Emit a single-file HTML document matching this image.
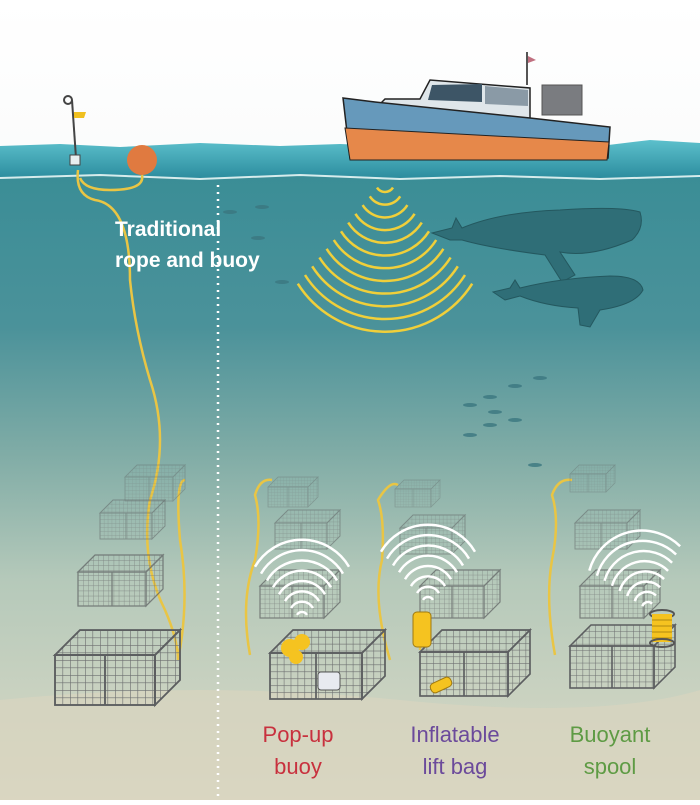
<!DOCTYPE html>
<html><head><meta charset="utf-8"><style>
html,body{margin:0;padding:0;}
body{width:700px;height:800px;overflow:hidden;font-family:"Liberation Sans",sans-serif;}
</style></head><body>
<svg width="700" height="800" viewBox="0 0 700 800" xmlns="http://www.w3.org/2000/svg">
<defs>
<linearGradient id="sky" x1="0" y1="0" x2="0" y2="1">
<stop offset="0" stop-color="#ffffff"/><stop offset="1" stop-color="#e9eeee"/>
</linearGradient>
<linearGradient id="sea" x1="0" y1="0" x2="0" y2="1">
<stop offset="0" stop-color="#3a8d96"/>
<stop offset="0.25" stop-color="#4b929a"/>
<stop offset="0.45" stop-color="#80aca6"/>
<stop offset="0.65" stop-color="#b5c9ba"/>
<stop offset="1" stop-color="#dcdac6"/>
</linearGradient>
<linearGradient id="surf" x1="0" y1="0" x2="0" y2="1">
<stop offset="0" stop-color="#5cc0cc"/><stop offset="1" stop-color="#2a8a9c"/>
</linearGradient>
<pattern id="grid" width="6" height="6" patternUnits="userSpaceOnUse">
<path d="M0 0H6M0 0V6" stroke="#6d6f70" stroke-width="1" fill="none"/>
</pattern>
<g id="cage">
<polygon points="0,20 20,0 100,0 80,20" fill="url(#grid)" stroke="#5c5e60" stroke-width="1.5"/>
<polygon points="80,20 100,0 100,40 80,60" fill="url(#grid)" stroke="#5c5e60" stroke-width="1.5"/>
<rect x="0" y="20" width="80" height="40" fill="url(#grid)" stroke="#5c5e60" stroke-width="1.5"/>
<line x1="40" y1="20" x2="40" y2="60" stroke="#5c5e60" stroke-width="1.5"/>
</g>
<g id="wave" fill="none" stroke="#ffffff" stroke-width="2.5">
<path d="M-5 -3.1 A5.8 5.8 0 0 1 5 -3.1"/>
<path d="M-11 -10 A12.8 12.8 0 0 1 11 -10"/>
<path d="M-17 -16.9 A19.7 19.7 0 0 1 17 -16.9"/>
<path d="M-23 -23.8 A26.7 26.7 0 0 1 23 -23.8"/>
<path d="M-29 -30.7 A33.6 33.6 0 0 1 29 -30.7"/>
<path d="M-35 -37.5 A40.6 40.6 0 0 1 35 -37.5"/>
<path d="M-41 -44.4 A47.6 47.6 0 0 1 41 -44.4"/>
<path d="M-47 -51.3 A54.5 54.5 0 0 1 47 -51.3"/>
</g>
</defs>
<rect width="700" height="800" fill="url(#sky)"/>
<rect y="170" width="700" height="630" fill="url(#sea)"/>
<path d="M0 700 Q200 680 400 700 T700 690 V800 H0Z" fill="#d8d4bf" opacity="0.7"/>
<path d="M0 146 L60 144 L120 147 L200 143 L280 146 L340 144 L420 147 L520 145 L600 146 L650 140 L700 143 V178 L600 180 L500 177 L400 180 L300 176 L200 180 L100 176 L0 179Z" fill="url(#surf)"/>
<path d="M0 178 L100 175 L200 179 L300 175 L400 179 L500 176 L600 179 L700 176" stroke="#d6ecec" stroke-width="2" fill="none"/>
<line x1="218" y1="185" x2="218" y2="800" stroke="#ffffff" stroke-width="2.5" stroke-dasharray="2 5"/>
<!-- boat -->
<g>
<line x1="527" y1="52" x2="527" y2="85" stroke="#555" stroke-width="2"/>
<path d="M528 56 L536 60 L528 63Z" fill="#c07080"/>
<rect x="542" y="85" width="40" height="30" fill="#7a7c80" stroke="#555"/>
<path d="M380 104 L385 99 L420 99 L430 80 L530 88 L530 120 L380 118Z" fill="#dfe6ea" stroke="#222" stroke-width="1.5"/>
<path d="M432 85 L482 84 L482 102 L428 100Z" fill="#3d5566"/>
<path d="M485 86 L528 90 L528 106 L485 104Z" fill="#8a9aa6"/>
<path d="M343 98 L375 102 L530 118 L610 127 L608 158 L350 158Z" fill="#6699bb" stroke="#222" stroke-width="1.5"/>
<path d="M345 128 Q480 135 609 142 L607 160 L350 160Z" fill="#e6884a" stroke="#222" stroke-width="1"/>
</g>
<!-- sonar arcs -->
<g fill="none" stroke="#f0cf3a" stroke-width="2.5">
<path d="M377 187.6 A9.5 9.5 0 0 0 393 187.6"/>
<path d="M369.8 196.3 A18 18 0 0 0 400.2 196.3"/>
<path d="M362.6 205.1 A26.5 26.5 0 0 0 407.4 205.1"/>
<path d="M355.4 213.8 A35 35 0 0 0 414.6 213.8"/>
<path d="M348.2 222.6 A43.6 43.6 0 0 0 421.8 222.6"/>
<path d="M341 231.3 A52.1 52.1 0 0 0 429 231.3"/>
<path d="M333.8 240 A60.6 60.6 0 0 0 436.2 240"/>
<path d="M326.6 248.8 A69.1 69.1 0 0 0 443.4 248.8"/>
<path d="M319.4 257.5 A77.7 77.7 0 0 0 450.6 257.5"/>
<path d="M312.2 266.3 A86.2 86.2 0 0 0 457.8 266.3"/>
<path d="M305 275 A94.7 94.7 0 0 0 465 275"/>
<path d="M297.8 283.7 A103.2 103.2 0 0 0 472.2 283.7"/>
</g>
<!-- whales -->
<g fill="#2f6e77" stroke="#24585f" stroke-width="1">
<path d="M432 233 L452 228 L456 218 L462 228 Q500 212 560 210 Q620 206 640 212 Q645 228 632 240 Q590 258 560 252 L575 275 L562 282 L545 255 Q490 248 462 240 L450 240Z"/>
<path d="M493 292 L510 288 L515 280 L520 288 Q560 278 610 276 Q640 276 643 290 Q635 305 600 310 L590 327 L580 325 L578 308 Q545 306 520 296 L505 300Z"/>
</g>
<!-- fish -->
<g fill="#3b7780" opacity="0.8">
<ellipse cx="230" cy="212" rx="7" ry="2"/><ellipse cx="262" cy="207" rx="7" ry="2"/>
<ellipse cx="258" cy="238" rx="7" ry="2"/><ellipse cx="282" cy="282" rx="7" ry="2"/>
<ellipse cx="540" cy="378" rx="7" ry="2"/><ellipse cx="515" cy="386" rx="7" ry="2"/>
<ellipse cx="490" cy="397" rx="7" ry="2"/><ellipse cx="470" cy="405" rx="7" ry="2"/>
<ellipse cx="495" cy="412" rx="7" ry="2"/><ellipse cx="515" cy="420" rx="7" ry="2"/>
<ellipse cx="490" cy="425" rx="7" ry="2"/><ellipse cx="470" cy="435" rx="7" ry="2"/>
<ellipse cx="535" cy="465" rx="7" ry="2"/>
</g>
<!-- buoy -->
<line x1="72" y1="100" x2="76" y2="158" stroke="#444" stroke-width="2"/>
<circle cx="68" cy="100" r="4" fill="none" stroke="#444" stroke-width="2"/>
<path d="M74 112 L86 112 L84 118 L74 118Z" fill="#f0c020"/>
<rect x="70" y="155" width="10" height="10" fill="#e8eef0" stroke="#444"/>
<circle cx="142" cy="160" r="15" fill="#e07a40"/>
<!-- ropes -->
<g fill="none" stroke="#e9c544" stroke-width="2.5">
<path d="M78 170 Q75 195 95 200 Q130 205 130 280 Q135 330 150 380 Q170 440 150 500 Q140 560 165 610 Q178 640 178 660"/>
<path d="M142 175 Q145 190 110 190 Q85 190 80 178"/>
<path d="M178 660 Q190 600 180 540 Q175 480 185 480"/>
<path d="M250 655 Q240 600 255 560 Q262 520 255 495 Q260 478 272 480"/>
<path d="M390 660 Q372 600 382 560 Q385 520 378 500 Q390 480 398 485"/>
<path d="M555 655 Q545 600 552 560 Q560 520 552 495 Q558 478 572 480"/>
<path d="M420 620 L420 650"/>
</g>
<!-- cages -->
<g opacity="0.35"><use href="#cage" transform="translate(125 465) scale(0.6)"/><use href="#cage" transform="translate(268 477) scale(0.5)"/><use href="#cage" transform="translate(395 480) scale(0.45)"/><use href="#cage" transform="translate(570 465) scale(0.45)"/></g>
<g opacity="0.5"><use href="#cage" transform="translate(100 500) scale(0.65)"/><use href="#cage" transform="translate(275 510) scale(0.65)"/><use href="#cage" transform="translate(400 515) scale(0.65)"/><use href="#cage" transform="translate(575 510) scale(0.65)"/></g>
<g opacity="0.7"><use href="#cage" transform="translate(78 555) scale(0.85)"/><use href="#cage" transform="translate(260 570) scale(0.8)"/><use href="#cage" transform="translate(420 570) scale(0.8)"/><use href="#cage" transform="translate(580 570) scale(0.8)"/></g>
<g><use href="#cage" transform="translate(55 630) scale(1.25)"/><use href="#cage" transform="translate(270 630) scale(1.15)"/><use href="#cage" transform="translate(420 630) scale(1.1)"/><use href="#cage" transform="translate(570 625) scale(1.05)"/></g>
<!-- device waves -->
<use href="#wave" transform="translate(302 618)"/>
<use href="#wave" transform="translate(428 603)"/>
<use href="#wave" transform="translate(648 608) rotate(-15)"/>
<!-- devices -->
<circle cx="290" cy="648" r="9" fill="#f5c320"/><circle cx="302" cy="642" r="8" fill="#f5c320"/><circle cx="296" cy="657" r="7" fill="#f5c320"/>
<rect x="318" y="672" width="22" height="18" rx="3" fill="#e8eaf0" stroke="#555"/>
<rect x="413" y="612" width="18" height="35" rx="4" fill="#f5c320" stroke="#a07a10"/>
<rect x="430" y="680" width="22" height="10" rx="4" fill="#f5c320" stroke="#a07a10" transform="rotate(-25 441 685)"/>
<g>
<ellipse cx="662" cy="614" rx="12" ry="4" fill="none" stroke="#555" stroke-width="2"/>
<rect x="652" y="614" width="20" height="28" fill="#f5c320"/>
<g stroke="#b08a10" stroke-width="1"><line x1="652" y1="620" x2="672" y2="620"/><line x1="652" y1="626" x2="672" y2="626"/><line x1="652" y1="632" x2="672" y2="632"/><line x1="652" y1="638" x2="672" y2="638"/></g>
<ellipse cx="662" cy="643" rx="12" ry="4" fill="none" stroke="#555" stroke-width="2"/>
</g>
<!-- labels -->
<g font-family="Liberation Sans, sans-serif" font-size="21" font-weight="bold" fill="#ffffff">
<text x="115" y="236">Traditional</text>
<text x="115" y="267">rope and buoy</text>
</g>
<g font-family="Liberation Sans, sans-serif" font-size="22" text-anchor="middle">
<text x="298" y="742" fill="#c8313e">Pop-up</text><text x="298" y="774" fill="#c8313e">buoy</text>
<text x="455" y="742" fill="#6b4a9b">Inflatable</text><text x="455" y="774" fill="#6b4a9b">lift bag</text>
<text x="610" y="742" fill="#5e9b44">Buoyant</text><text x="610" y="774" fill="#5e9b44">spool</text>
</g>
</svg>
</body></html>
